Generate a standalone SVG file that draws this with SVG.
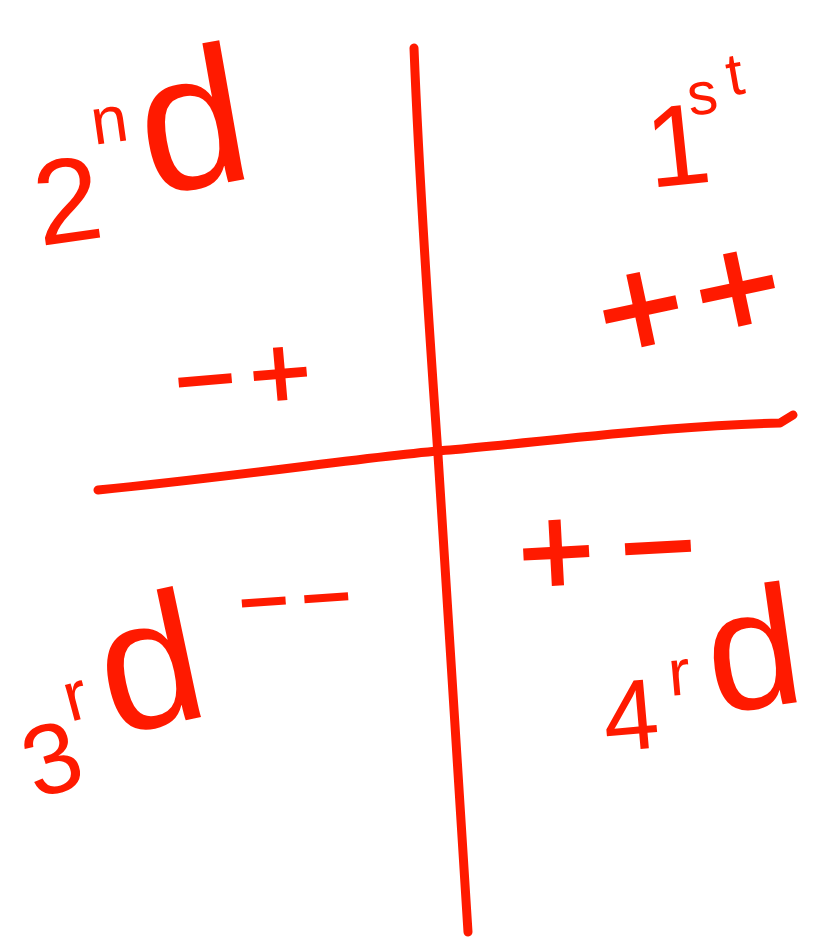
<svg xmlns="http://www.w3.org/2000/svg" width="821" height="943" viewBox="0 0 821 943">
<style>
.ink{fill:none;stroke:#ff1a00;stroke-width:9;stroke-linecap:round;stroke-linejoin:round}
.t{fill:#ff1a00;font-family:"Liberation Sans","DejaVu Sans",sans-serif;font-weight:normal}
.s{fill:#ff1a00;font-family:"DejaVu Sans","Liberation Sans",sans-serif;font-weight:bold}
</style>
<rect width="821" height="943" fill="#fff"/>
<g id="axes">
<path class="ink" d="M414,48 C420,200 430,340 438,455 C446,600 458,760 468,932"/>
<path class="ink" d="M98,490 C250,475 380,455 450,450 C560,440 680,425 780,423 L793,415"/>
</g>
<g id="q2">
<text class="t" transform="translate(40,246) rotate(-8)" font-size="120">2</text>
<text class="t" transform="translate(94,145) rotate(-8)" font-size="66">n</text>
<text class="t" transform="translate(150,196) rotate(-10)" font-size="195">d</text>
<text class="s" transform="translate(172,410) rotate(-5)" font-size="85" letter-spacing="4">−+</text>
</g>
<g id="q1">
<text class="t" transform="translate(650,188) rotate(-6)" font-size="115">1</text>
<text class="t" transform="translate(690,116) rotate(-8)" font-size="60">s</text>
<text class="t" transform="translate(730,96) rotate(-10)" font-size="60">t</text>
<text class="s" transform="translate(600,356) rotate(-12)" font-size="118">++</text>
</g>
<g id="q3">
<text class="t" transform="translate(36,800) rotate(-18)" font-size="100">3</text>
<text class="t" transform="translate(70,722) rotate(-15)" font-size="70">r</text>
<text class="t" transform="translate(112,736) rotate(-12)" font-size="185">d</text>
<text class="s" transform="translate(236,626) rotate(-4)" font-size="70" letter-spacing="4">−−</text>
</g>
<g id="q4">
<text class="s" transform="translate(514,588) rotate(-3)" font-size="105" letter-spacing="14">+−</text>
<text class="t" transform="translate(606,752) rotate(-5)" font-size="100">4</text>
<text class="t" transform="translate(670,696) rotate(-5)" font-size="66">r</text>
<text class="t" transform="translate(714,714) rotate(-8)" font-size="170">d</text>
</g>
</svg>
